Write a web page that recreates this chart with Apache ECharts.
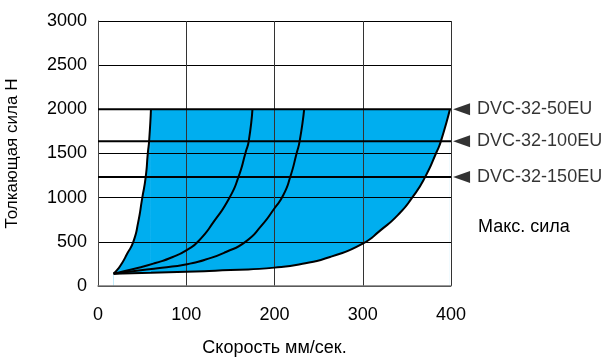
<!DOCTYPE html>
<html>
<head>
<meta charset="utf-8">
<script src="https://cdn.jsdelivr.net/npm/echarts@6/dist/echarts.min.js"></script>
<style>
  html, body { margin: 0; padding: 0; background: #fff; }
  #chart { width: 606px; height: 358px; }
</style>
</head>
<body>
<div id="chart"></div>
<script>
var myChart = echarts.init(document.getElementById('chart'));

// left boundary (speed, force)
var leftCurve = [[17.7, 140], [22, 185], [27, 255], [33, 365], [40, 500], [45.5, 720], [50, 990], [54, 1230], [56.5, 1510], [58, 1650], [60, 2000]];
// middle curves
var curveA = [[17.7, 140], [46, 207], [65, 260], [84, 325], [101, 410], [114, 510], [132, 740], [149, 1000], [159, 1230], [167.5, 1520], [170.8, 1640], [175, 2000]];
var curveB = [[17.7, 140], [46, 175], [84, 220], [101, 247], [122, 300], [145, 385], [167, 500], [185, 680], [200, 880], [210, 1030], [218, 1240], [225, 1500], [228.5, 1640], [233.6, 2000]];
// right / bottom boundary
var curveC = [[17.7, 140], [60, 150], [100, 162], [150, 180], [200, 208], [235, 258], [265, 335], [300, 480], [320, 630], [340, 805], [356, 1000], [370.5, 1230], [383.8, 1520], [388.6, 1640], [398.8, 2000]];

var models = ['DVC-32-50EU', 'DVC-32-100EU', 'DVC-32-150EU'];
var maxForce = [2000, 1640, 1235];
var arrowX = 412;

var blue = '#00AEEF';
var font = 'Liberation Sans, Arial, sans-serif';

var curveStyle = {
  type: 'line',
  smooth: 0.6,
  showSymbol: false,
  symbol: 'none',
  silent: true,
  z: 10,
  lineStyle: { color: '#000', width: 2 }
};

var series = [
  // blue fill under the left curve
  Object.assign({}, curveStyle, {
    data: leftCurve,
    z: 1,
    lineStyle: { width: 0 },
    areaStyle: { color: blue, opacity: 1 }
  }),
  // blue block up to the max force
  {
    type: 'line',
    data: [[leftCurve[leftCurve.length - 1][0], 2000], [curveC[curveC.length - 1][0], 2000]],
    showSymbol: false,
    symbol: 'none',
    z: 1,
    lineStyle: { width: 0 },
    areaStyle: { color: blue, opacity: 1 }
  },
  // white below the lower curve
  Object.assign({}, curveStyle, {
    data: curveC,
    z: 2,
    lineStyle: { width: 0 },
    areaStyle: { color: '#fff', opacity: 1 }
  }),
  Object.assign({}, curveStyle, { data: leftCurve }),
  Object.assign({}, curveStyle, { data: curveA }),
  Object.assign({}, curveStyle, { data: curveB }),
  Object.assign({}, curveStyle, { data: curveC })
];

// max force lines
maxForce.forEach(function (f) {
  series.push({
    type: 'line',
    data: [[0, f], [400, f]],
    showSymbol: false,
    symbol: 'none',
    z: 10,
    lineStyle: { color: '#000', width: 2 }
  });
});

// arrows with model names
series.push({
  type: 'scatter',
  clip: false,
  z: 10,
  symbol: 'triangle',
  symbolSize: [12, 17],
  symbolRotate: 90,
  itemStyle: { color: '#000' },
  data: maxForce.map(function (f, i) { return { value: [arrowX, f], name: models[i] }; }),
  label: {
    show: true,
    position: 'right',
    distance: 7,
    formatter: '{b}',
    color: '#000',
    fontFamily: font,
    fontSize: 18
  }
});

var option = {
  animation: false,
  grid: { left: 98, right: 155, top: 21, bottom: 72, outerBoundsMode: 'none' },
  xAxis: {
    type: 'value',
    min: 0,
    max: 400,
    interval: 100,
    z: 5,
    name: 'Скорость мм/сек.',
    nameLocation: 'middle',
    nameGap: 53,
    nameTextStyle: { color: '#000', fontFamily: font, fontSize: 18 },
    axisLine: { show: true, lineStyle: { color: '#777', width: 1.5 } },
    axisTick: { show: false },
    axisLabel: { color: '#000', fontFamily: font, fontSize: 18, margin: 20, formatter: function (v) { return String(v); } },
    splitLine: { show: true, lineStyle: { color: '#333', width: 1 } }
  },
  yAxis: {
    type: 'value',
    min: 0,
    max: 3000,
    interval: 500,
    z: 5,
    name: 'Толкающая сила Н',
    nameLocation: 'middle',
    nameGap: 77,
    nameTextStyle: { color: '#000', fontFamily: font, fontSize: 17 },
    axisLine: { show: true, lineStyle: { color: '#444', width: 1 } },
    axisTick: { show: false },
    axisLabel: { color: '#000', fontFamily: font, fontSize: 18, margin: 11, formatter: function (v) { return String(v); } },
    splitLine: { show: true, lineStyle: { color: '#000', width: 1 } }
  },
  graphic: [{
    type: 'text',
    left: 478,
    top: 218,
    style: { text: 'Макс. сила', fill: '#000', font: '18px ' + font }
  }],
  series: series
};

option && myChart.setOption(option);
</script>
</body>
</html>
